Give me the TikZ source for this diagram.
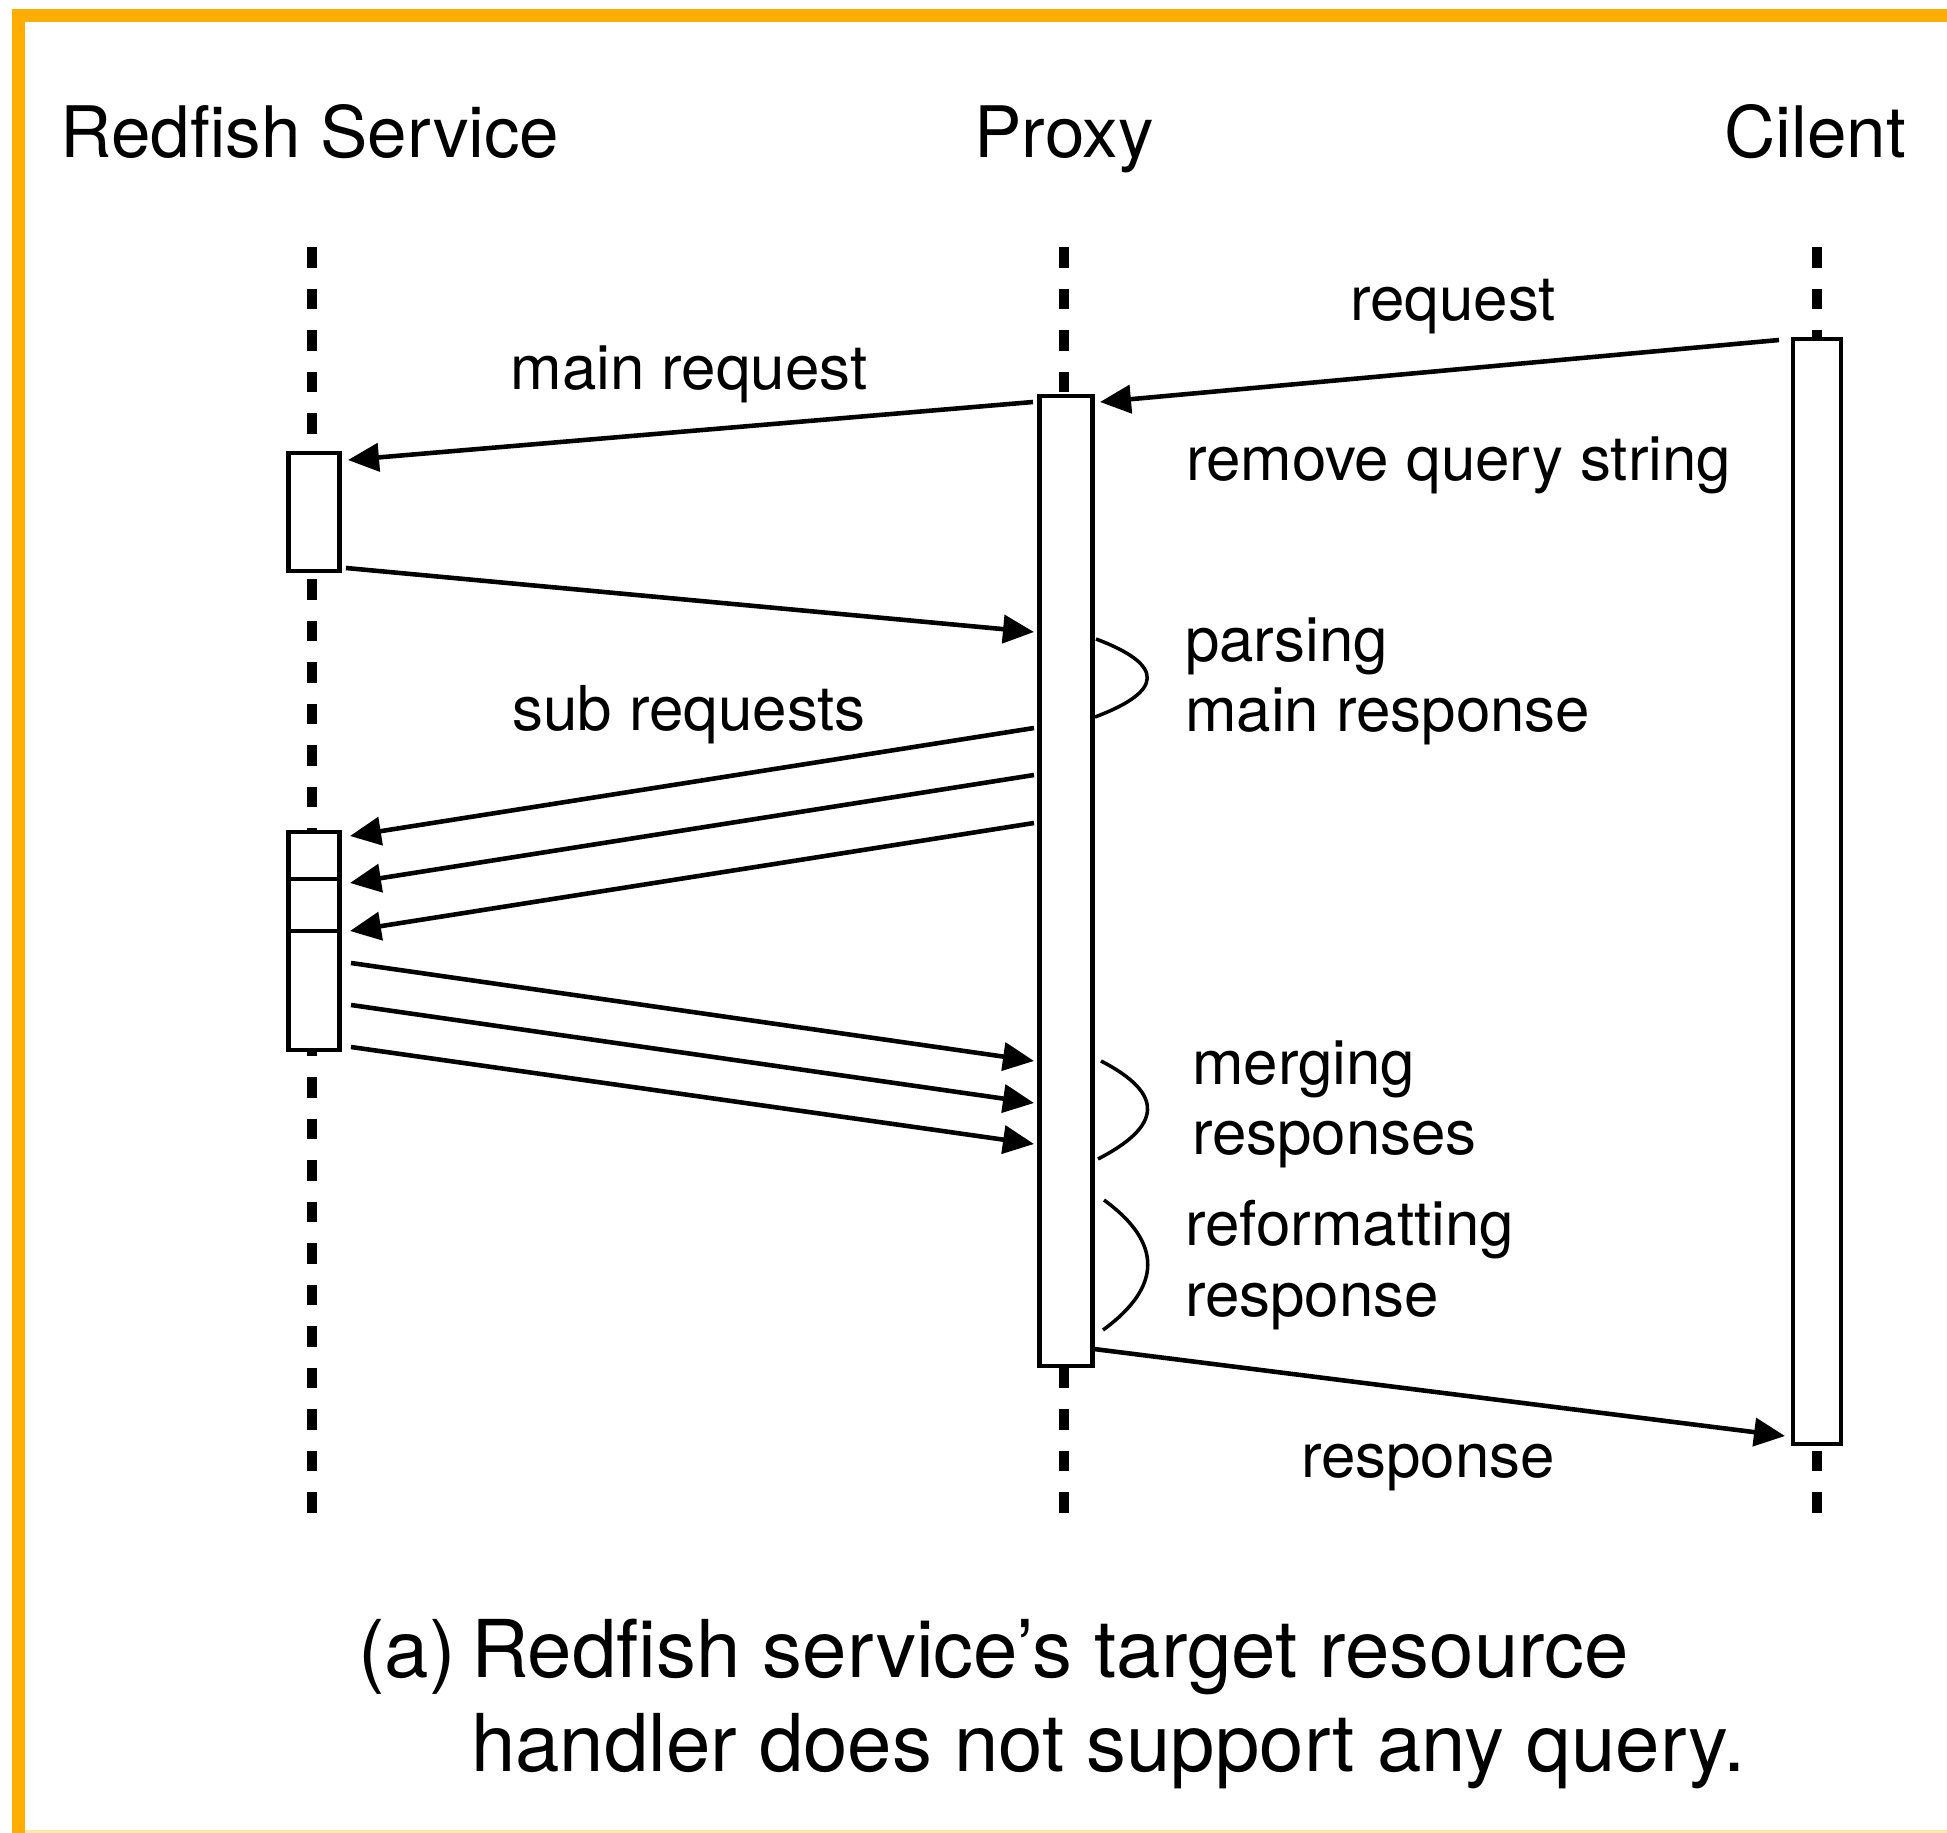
\documentclass[tikz,border=0pt]{standalone}
\usepackage{fontspec}
\setmainfont{TeX Gyre Heros}
\usepackage{array}
\usetikzlibrary{arrows.meta,positioning}
\definecolor{frameorange}{RGB}{255,174,0}
\definecolor{framepale}{RGB}{255,232,170}
\newcommand{\headfont}{\fontsize{20.2}{24}\selectfont}
\newcommand{\msgfont}{\fontsize{17.6}{20.2}\selectfont}
\newcommand{\capfont}{\fontsize{22.7}{27}\selectfont}

\begin{document}
\begin{tikzpicture}[x=1cm, y=-1cm, line width=1.2pt,
  lifeline/.style={line width=3.1pt, dash pattern=on 0.205cm off 0.21cm},
  actbox/.style={draw, fill=white, line width=1.15pt, inner sep=0pt, outer sep=0pt, minimum width=0.51cm},
  msg/.style={line width=1.3pt, -{Triangle[length=0.31cm,width=0.28cm]}},
  selfloop/.style={line width=1pt},
  head/.style={font=\headfont, anchor=base, inner sep=0pt},
  lbl/.style={font=\msgfont, inner sep=0pt}]
\useasboundingbox (0,0) rectangle (19.47,18.33);
% frame
\fill[frameorange] (0.12,0.09) rectangle (19.47,0.22);
\fill[frameorange] (0.12,0.09) rectangle (0.25,18.33);
\fill[framepale] (0.25,18.30) rectangle (19.47,18.33);

% participants
\node[head] (svc) at (3.10,1.57) {Redfish Service};
\node[head] (prx) at (10.64,1.57) {Proxy};
\node[head] (cli) at (18.15,1.57) {Cilent};

% lifelines
\coordinate (svctop) at (3.12,2.47);
\coordinate (svcbot) at (3.12,15.14);
\coordinate (prxtop) at (10.64,2.47);
\coordinate (prxbot) at (10.64,15.14);
\coordinate (clitop) at (18.17,2.47);
\coordinate (clibot) at (18.17,15.14);
\draw[lifeline] (svctop) -- (svcbot);
\draw[lifeline] (prxtop) -- (prxbot);
\draw[lifeline] (clitop) -- (clibot);

% activations
\node[actbox, minimum width=0.53cm, minimum height=9.70cm] (pbox) at (10.66,8.81) {};
\node[actbox, minimum width=0.48cm, minimum height=11.05cm] (cbox) at (18.17,8.915) {};
\node[actbox, minimum height=1.18cm] (sbox) at (3.14,5.12) {};
\node[actbox, minimum height=0.47cm, anchor=north] (sub1) at (3.14,8.32) {};
\node[actbox, minimum height=0.52cm, below=0pt of sub1] (sub2) {};
\node[actbox, minimum height=1.19cm, below=0pt of sub2] (sub3) {};

% request / main request
\coordinate (req0) at (17.79,3.40);
\coordinate (req1) at (11.00,4.02);
\draw[msg] (req0) -- (req1);
\node[lbl, anchor=base] (reqlbl) at (14.53,3.20) {request};
\coordinate (mreq0) at (10.33,4.02);
\coordinate (mreq1) at (3.48,4.60);
\draw[msg] (mreq0) -- (mreq1);
\node[lbl, anchor=base] (mreqlbl) at (6.89,3.90) {main request};
\node[lbl, anchor=base west] (rmqlbl) at (11.84,4.80) {remove query string};
\coordinate (mrsp0) at (3.46,5.68);
\coordinate (mrsp1) at (10.34,6.32);
\draw[msg] (mrsp0) -- (mrsp1);

% parsing
\coordinate (pl0) at (10.96,6.39);
\coordinate (pl1) at (10.95,7.17);
\draw[selfloop] (pl0) .. controls +(0.69,0.26) and +(0.69,-0.26) .. (pl1);
\node[lbl, anchor=base west] (parselbl) at (11.83,6.61)
  {\begin{tabular}[t]{@{}l@{}}parsing\\main response\end{tabular}};

% sub requests and responses
\node[lbl, anchor=base] (sublbl) at (6.89,7.30) {sub requests};
\foreach \i/\ya/\yb in {1/7.28/8.36, 2/7.75/8.83, 3/8.23/9.31}{
  \coordinate (sq\i a) at (10.34,\ya);
  \coordinate (sq\i b) at (3.50,\yb);
  \draw[msg] (sq\i a) -- (sq\i b);
}
\foreach \i/\ya/\yb in {1/9.63/10.61, 2/10.05/11.03, 3/10.47/11.44}{
  \coordinate (sr\i a) at (3.51,\ya);
  \coordinate (sr\i b) at (10.34,\yb);
  \draw[msg] (sr\i a) -- (sr\i b);
}

% merging / reformatting
\coordinate (ml0) at (11.01,10.61);
\coordinate (ml1) at (10.98,11.59);
\draw[selfloop] (ml0) .. controls +(0.64,0.33) and +(0.64,-0.33) .. (ml1);
\node[lbl, anchor=base west] (mergelbl) at (11.90,10.84)
  {\begin{tabular}[t]{@{}l@{}}merging\\responses\end{tabular}};
\coordinate (rl0) at (11.04,12.00);
\coordinate (rl1) at (11.03,13.30);
\draw[selfloop] (rl0) .. controls +(0.59,0.43) and +(0.59,-0.43) .. (rl1);
\node[lbl, anchor=base west] (reformlbl) at (11.83,12.45)
  {\begin{tabular}[t]{@{}l@{}}reformatting\\response\end{tabular}};

% final response
\coordinate (rsp0) at (10.94,13.49);
\coordinate (rsp1) at (17.85,14.36);
\draw[msg] (rsp0) -- (rsp1);
\node[lbl, anchor=base] (rsplbl) at (14.28,14.77) {response};

% caption
\node[font=\capfont, inner sep=0pt, anchor=base west] (caption) at (3.56,16.77)
  {\begin{tabular}[t]{@{}l@{}l@{}}\makebox[1.13cm][l]{(a)} & Redfish service's target resource\\ & handler does not support any query.\end{tabular}};
\end{tikzpicture}
\end{document}
